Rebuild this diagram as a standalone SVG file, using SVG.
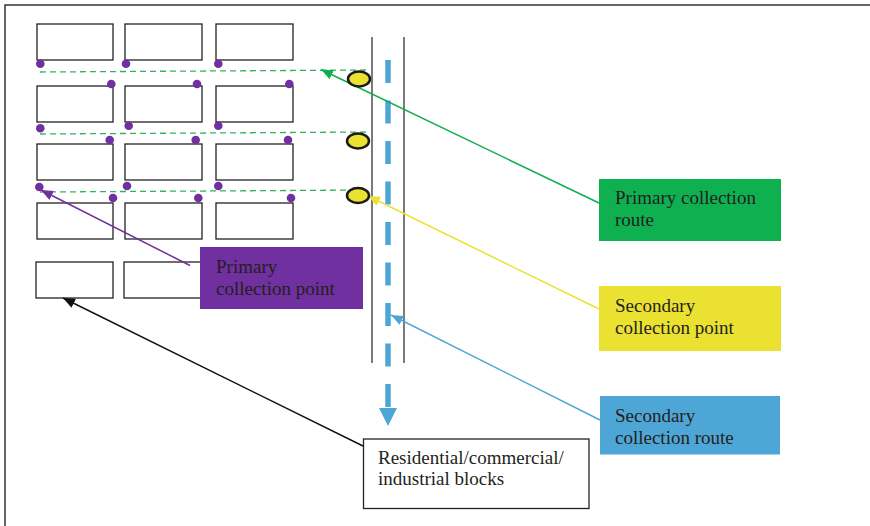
<svg xmlns="http://www.w3.org/2000/svg" width="870" height="526" viewBox="0 0 870 526">
<defs>
<style>
.blk{fill:#fff;stroke:#222;stroke-width:1.3}
.dot{fill:#7030a0}
.gd{fill:none;stroke:#2fb562;stroke-width:1.3;stroke-dasharray:6 4}
.road{stroke:#333;stroke-width:1.3}
.sp{fill:#ebe130;stroke:#1a1a1a;stroke-width:2.5}
.lbl{font-family:"Liberation Serif","Times New Roman",serif;font-size:19px;fill:#231f20}
</style>
<marker id="mG" markerUnits="userSpaceOnUse" markerWidth="13" markerHeight="10" refX="12" refY="5" orient="auto"><path d="M0,0 L12,5 L0,10 z" fill="#10ae4f"/></marker>
<marker id="mY" markerUnits="userSpaceOnUse" markerWidth="13" markerHeight="10" refX="12" refY="5" orient="auto"><path d="M0,0 L12,5 L0,10 z" fill="#ebe130"/></marker>
<marker id="mB" markerUnits="userSpaceOnUse" markerWidth="13" markerHeight="10" refX="12" refY="5" orient="auto"><path d="M0,0 L12,5 L0,10 z" fill="#4ea6d6"/></marker>
<marker id="mP" markerUnits="userSpaceOnUse" markerWidth="13" markerHeight="10" refX="12" refY="5" orient="auto"><path d="M0,0 L12,5 L0,10 z" fill="#7030a0"/></marker>
<marker id="mK" markerUnits="userSpaceOnUse" markerWidth="13" markerHeight="10" refX="12" refY="5" orient="auto"><path d="M0,0 L12,5 L0,10 z" fill="#111"/></marker>
</defs>
<rect width="870" height="526" fill="#fff"/>
<path d="M5 526 V5 H870" fill="none" stroke="#333" stroke-width="1.5"/>

<g id="blocks">
<rect class="blk" x="37" y="24" width="76" height="36"/>
<rect class="blk" x="125" y="24" width="77" height="36"/>
<rect class="blk" x="216" y="24" width="77" height="36"/>
<rect class="blk" x="37" y="86" width="76" height="36"/>
<rect class="blk" x="125" y="86" width="77" height="36"/>
<rect class="blk" x="216" y="86" width="77" height="36"/>
<rect class="blk" x="37" y="144" width="76" height="36"/>
<rect class="blk" x="125" y="144" width="77" height="36"/>
<rect class="blk" x="216" y="144" width="77" height="36"/>
<rect class="blk" x="37" y="203" width="76" height="36"/>
<rect class="blk" x="125" y="203" width="77" height="36"/>
<rect class="blk" x="216" y="203" width="77" height="36"/>
<rect class="blk" x="36" y="262" width="77" height="36"/>
<rect class="blk" x="124" y="262" width="78" height="36"/>
</g>

<g id="road">
<line class="road" x1="372" y1="37" x2="372" y2="363"/>
<line class="road" x1="404" y1="37" x2="404" y2="363"/>
</g>

<g id="connectors">
<line class="gd" x1="40" y1="72" x2="370" y2="70"/>
<line class="gd" x1="40" y1="134" x2="370" y2="132"/>
<line class="gd" x1="40" y1="192" x2="370" y2="190"/>
<path d="M388 60 V408" stroke="#4ea6d6" stroke-width="5.5" stroke-dasharray="23 17.5" fill="none"/>
<polygon points="379,408 397,408 388,426" fill="#4ea6d6"/>
<line x1="599" y1="203" x2="321" y2="69.5" stroke="#10ae4f" stroke-width="1.5" marker-end="url(#mG)"/>
<line x1="599" y1="309" x2="368" y2="196" stroke="#ebe130" stroke-width="1.5" marker-end="url(#mY)"/>
<line x1="600" y1="420" x2="391" y2="315" stroke="#4ea6d6" stroke-width="1.5" marker-end="url(#mB)"/>
<line x1="190" y1="265.5" x2="41" y2="190" stroke="#7030a0" stroke-width="1.5" marker-end="url(#mP)"/>
<line x1="363" y1="446" x2="63" y2="298" stroke="#111" stroke-width="1.5" marker-end="url(#mK)"/>
</g>

<g id="primary-points">
<circle class="dot" cx="40.3" cy="63.7" r="4.3"/>
<circle class="dot" cx="126" cy="63.7" r="4.3"/>
<circle class="dot" cx="218.3" cy="63.7" r="4.3"/>
<circle class="dot" cx="111.3" cy="84" r="4.3"/>
<circle class="dot" cx="197" cy="84" r="4.3"/>
<circle class="dot" cx="289.3" cy="84" r="4.3"/>
<circle class="dot" cx="40.3" cy="128.3" r="4.3"/>
<circle class="dot" cx="128.7" cy="125.7" r="4.3"/>
<circle class="dot" cx="218.3" cy="125.7" r="4.3"/>
<circle class="dot" cx="109.7" cy="140" r="4.3"/>
<circle class="dot" cx="195.7" cy="140" r="4.3"/>
<circle class="dot" cx="288" cy="140" r="4.3"/>
<circle class="dot" cx="39.3" cy="187" r="4.3"/>
<circle class="dot" cx="127" cy="186" r="4.3"/>
<circle class="dot" cx="218.3" cy="186" r="4.3"/>
<circle class="dot" cx="113" cy="198" r="4.3"/>
<circle class="dot" cx="198.3" cy="198" r="4.3"/>
<circle class="dot" cx="291" cy="198" r="4.3"/>
</g>

<g id="secondary-points">
<ellipse class="sp" cx="359" cy="79" rx="11" ry="7.5"/>
<ellipse class="sp" cx="358" cy="141" rx="11" ry="7.5"/>
<ellipse class="sp" cx="358" cy="195.5" rx="11" ry="7.5"/>
</g>

<g id="label-primary-point">
<rect x="200" y="247" width="163" height="62" fill="#7030a0"/>
<text class="lbl" x="216" y="273">Primary</text>
<text class="lbl" x="216" y="294.5">collection point</text>
</g>

<g id="label-primary-route">
<rect x="599" y="179" width="182" height="62" fill="#0fb050"/>
<text class="lbl" x="615" y="204">Primary collection</text>
<text class="lbl" x="615" y="226">route</text>
</g>

<g id="label-secondary-point">
<rect x="599" y="286" width="182" height="65" fill="#ebe130"/>
<text class="lbl" x="615" y="312">Secondary</text>
<text class="lbl" x="615" y="334">collection point</text>
</g>

<g id="label-secondary-route">
<rect x="600" y="396" width="180" height="58.5" fill="#4ea6d6"/>
<text class="lbl" x="615" y="422">Secondary</text>
<text class="lbl" x="615" y="443.5">collection route</text>
</g>

<g id="label-blocks">
<rect x="363.5" y="439" width="225.5" height="69.5" fill="#fff" stroke="#222" stroke-width="1.3"/>
<text class="lbl" x="378" y="464">Residential/commercial/</text>
<text class="lbl" x="378" y="485">industrial blocks</text>
</g>
</svg>
